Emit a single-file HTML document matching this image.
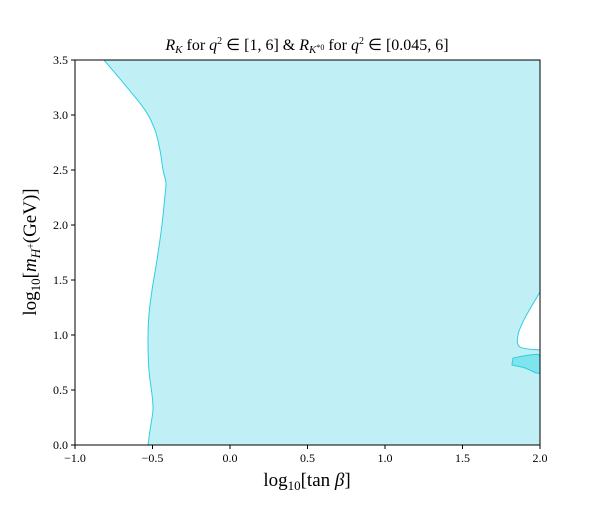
<!DOCTYPE html>
<html><head><meta charset="utf-8"><style>
body{margin:0;background:#fff;width:600px;height:500px;overflow:hidden}
text{font-family:"Liberation Serif",serif;fill:#000}
</style></head><body>
<svg id="chart" width="600" height="500" xmlns="http://www.w3.org/2000/svg">
<defs><clipPath id="clip"><rect x="75" y="60" width="465" height="385"/></clipPath></defs>
<text x="307" y="50" text-anchor="middle" font-size="16"><tspan font-style="italic">R</tspan><tspan font-size="11" dy="3" font-style="italic">K</tspan><tspan dy="-3"> for </tspan><tspan font-style="italic">q</tspan><tspan font-size="10" dy="-6">2</tspan><tspan dy="6"> ∈ [1, 6] &amp; </tspan><tspan font-style="italic">R</tspan><tspan font-size="11" dy="3" font-style="italic">K</tspan><tspan font-size="8" dy="-3">*0</tspan><tspan dy="0"> for </tspan><tspan font-style="italic">q</tspan><tspan font-size="10" dy="-6">2</tspan><tspan dy="6"> ∈ [0.045, 6]</tspan></text>
<g id="data" clip-path="url(#clip)"></g>
<g id="plot"></g>
<text x="307" y="486" text-anchor="middle" font-size="19">log<tspan font-size="13" dy="4">10</tspan><tspan dy="-4">[tan </tspan><tspan font-style="italic">β</tspan>]</text>
<text transform="translate(36,252) rotate(-90)" text-anchor="middle" font-size="19">log<tspan font-size="13" dy="4">10</tspan><tspan dy="-4">[</tspan><tspan font-style="italic">m</tspan><tspan font-size="13" dy="4" font-style="italic">H</tspan><tspan font-size="10" dy="-6">+</tspan><tspan dy="2">(GeV)]</tspan></text>
</svg>
<script>
const boundaryX=[-0.813,-0.677,-0.548,-0.484,-0.452,-0.432,-0.413,-0.419,-0.439,-0.471,-0.503,-0.523,-0.529,-0.523,-0.503,-0.497,-0.516,-0.529];
const boundaryY=[3.5,3.273,3.045,2.864,2.682,2.5,2.382,2.273,2.0,1.682,1.409,1.182,0.955,0.682,0.455,0.318,0.136,0];
const holeX=[2,1.903,1.858,1.871,2];
const holeY=[1.391,1.155,1.0,0.891,0.864];
const patchX=[1.826,1.935,2,2,1.903,1.819];
const patchY=[0.791,0.818,0.809,0.655,0.7,0.727];
const xTicks=[-1.0,-0.5,0.0,0.5,1.0,1.5,2.0];
const yTicks=[0.0,0.5,1.0,1.5,2.0,2.5,3.0,3.5];
const L=75,R=540,T=60,B=445;
const sx=v=>L+(v+1)/3*(R-L), sy=v=>B-v/3.5*(B-T);
const NS="http://www.w3.org/2000/svg", g=document.getElementById('plot'), gd=document.getElementById('data');
function mk(t,a,parent){const e=document.createElementNS(NS,t);for(const k in a)e.setAttribute(k,a[k]);(parent||g).appendChild(e);return e;}
function smooth(xs,ys){const p=xs.map((x,i)=>[sx(x),sy(ys[i])]);let s='M'+p[0][0]+','+p[0][1];
 for(let i=0;i<p.length-1;i++){const p0=p[Math.max(i-1,0)],p1=p[i],p2=p[i+1],p3=p[Math.min(i+2,p.length-1)];
  s+=' C'+(p1[0]+(p2[0]-p0[0])/6)+','+(p1[1]+(p2[1]-p0[1])/6)+' '+(p2[0]-(p3[0]-p1[0])/6)+','+(p2[1]-(p3[1]-p1[1])/6)+' '+p2[0]+','+p2[1];}
 return s;}
const bd=smooth(boundaryX,boundaryY);
let region=mk('path',{d:bd+' L'+sx(2)+','+sy(0)+' L'+sx(2)+','+sy(3.5)+' Z',fill:'#c0f0f5',stroke:'none'},gd);


let edge=mk('path',{d:bd,fill:'none',stroke:'#2ccfe0','stroke-width':1},gd);


let hole=mk('path',{d:smooth(holeX,holeY)+' Z',fill:'#fff',stroke:'#2ccfe0','stroke-width':1},gd);


let patch=mk('path',{d:smooth(patchX,patchY)+' Z',fill:'#80e4ee',stroke:'#2ccfe0','stroke-width':1},gd);


let frame=mk('rect',{x:L,y:T,width:R-L,height:B-T,fill:'none',stroke:'#000','stroke-width':1});


xTicks.forEach(v=>{const x=sx(v);
 const t=mk('line',{x1:x,x2:x,y1:B,y2:B+4,stroke:'#000'});
 
 
 const l=mk('text',{x:x,y:B+17,'text-anchor':'middle','font-size':12});l.textContent=(v<0?'−':'')+Math.abs(v).toFixed(1);
 
 });
yTicks.forEach(v=>{const y=sy(v);
 const t=mk('line',{x1:L-4,x2:L,y1:y,y2:y,stroke:'#000'});
 
 
 const l=mk('text',{x:L-7,y:y+4,'text-anchor':'end','font-size':12});l.textContent=v.toFixed(1);
 
 });
</script>
</body></html>
